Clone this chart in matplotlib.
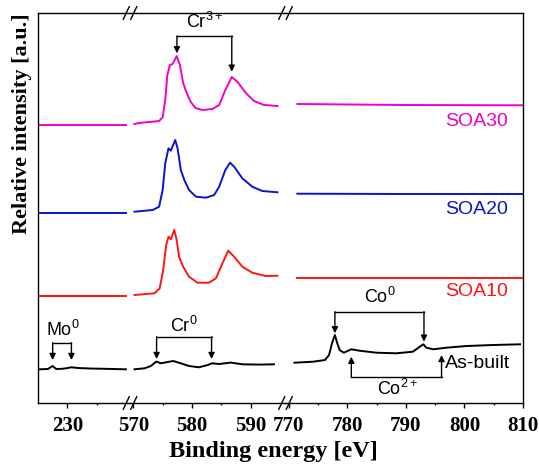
import matplotlib
matplotlib.use('Agg')
import matplotlib.pyplot as plt
from matplotlib.lines import Line2D
import numpy as np

plt.rcParams['mathtext.fontset'] = 'custom'
plt.rcParams['mathtext.rm'] = 'Liberation Sans'
plt.rcParams['mathtext.default'] = 'rm'

# --- data (intensity in a.u.) ---
# Mo 3d window
mo_ev_ab = [225.2, 226.7, 227.5, 228.1, 229.1, 229.8, 230.7, 231.8, 233.9, 236.4, 240.0]
mo_ab = [0, 0.3, 3.3, 0.3, 0.5, 1.0, 2.0, 1.3, 0.8, 0.5, 0]
mo_ev_flat = [225.2, 230.0, 235.0, 240.0]
mo_flat = [0, 0, 0, 0]

# Cr 2p window
cr_ev_30 = [570.2, 571.0, 574.4, 575.0, 575.45, 575.8, 576.25, 576.7, 577.4, 577.95, 578.5, 579.1,
            579.8, 580.6, 581.8, 583.5, 584.65, 585.7, 586.8, 587.8, 589.2, 590.6, 592.3, 594.6]
cr_30 = [1, 2, 4, 7.7, 25, 50, 60, 61, 69, 60, 42, 32, 23, 17, 15, 16, 20, 35, 48, 43, 32, 24, 20, 19]

cr_ev_20 = [570.2, 573.3, 574.4, 575.0, 575.45, 576.0, 576.4, 577.15, 577.55, 578.1, 578.7, 579.5,
            580.7, 582.4, 583.8, 584.65, 585.7, 586.5, 587.2, 588.6, 590.3, 592.0, 594.6]
cr_20 = [1, 2.7, 6, 22.7, 49.4, 64.4, 62, 72.7, 64.4, 42.7, 32.7, 22.7, 16, 15, 17.7, 26, 42.7, 50,
         46, 34.4, 26, 21.7, 20.4]

cr_ev_10 = [570.2, 573.6, 574.5, 575.1, 575.6, 576.0, 576.4, 576.98, 577.4, 577.8, 578.5, 579.5,
            580.95, 582.9, 584.1, 585.2, 586.2, 587.2, 588.6, 590.3, 592.6, 594.6]
cr_10 = [1, 2.7, 7.7, 26, 51, 59.3, 56.7, 66, 56, 39.3, 29.3, 19.3, 13.3, 13.3, 17.7, 32.7, 45.3,
         39.3, 29.3, 23.3, 20, 20.3]

cr_ev_ab = [570.2, 571.9, 573.0, 573.9, 574.7, 575.6, 576.8, 578.1, 579.5, 581.2, 582.7, 583.4,
            584.65, 586.6, 588.6, 591.5, 594.0]
cr_ab = [0, 1, 3.3, 7.7, 6, 7, 8.3, 6, 3.3, 2, 4.3, 6, 5.3, 6.7, 5, 4.7, 5]

# Co 2p window
co_ev_ab = [771.0, 774.2, 776.2, 776.9, 777.4, 777.9, 778.3, 778.7, 779.4, 780.7, 782.1, 785.0,
            788.4, 791.2, 792.4, 793.0, 793.5, 794.7, 796.9, 800.4, 804.9, 809.5]
co_ab = [6.6, 7.6, 9.3, 14.3, 26, 34.3, 26, 19.3, 16.6, 20, 18.6, 16.6, 16, 17.6, 22.6, 25, 21.6,
         20, 21.6, 23.3, 24.3, 25]
co_ev_flat = [771.5, 790.0, 810.0]
co_30 = [21, 20, 19.7]
co_20 = [19, 18.7, 18.7]
co_10 = [18.3, 18.3, 18.3]

samples = ['As-built', 'SOA10', 'SOA20', 'SOA30']
offsets = [33.7, 107, 190.3, 278]
colors = ['black', '#FF1414', '#0A14CC', '#F000C8']

segments = {
    'As-built': [(mo_ev_ab, mo_ab), (cr_ev_ab, cr_ab), (co_ev_ab, co_ab)],
    'SOA10': [(mo_ev_flat, mo_flat), (cr_ev_10, cr_10), (co_ev_flat, co_10)],
    'SOA20': [(mo_ev_flat, mo_flat), (cr_ev_20, cr_20), (co_ev_flat, co_20)],
    'SOA30': [(mo_ev_flat, mo_flat), (cr_ev_30, cr_30), (co_ev_flat, co_30)],
}

xlims = [(225, 240.67), (569.4, 595.9), (769.4, 810)]
major = [[230], [570, 580, 590], [770, 780, 790, 800, 810]]
minor = [[235], [575, 585], [775, 785, 795, 805]]

W, H = 539, 467
fig = plt.figure(figsize=(W / 100, H / 100), dpi=100)
gs = fig.add_gridspec(1, 3, width_ratios=[b - a for a, b in xlims], wspace=0,
                      left=38 / W, right=523 / W, bottom=1 - 403 / H, top=1 - 13 / H)
axes = [fig.add_subplot(gs[0, i]) for i in range(3)]

serif = 'Liberation Serif'
sans = 'Liberation Sans'

for i, ax in enumerate(axes):
    ax.set_xlim(*xlims[i])
    ax.set_ylim(0, 390)
    ax.set_yticks([])
    ax.set_xticks(major[i])
    ax.set_xticks(minor[i], minor=True)
    ax.tick_params(axis='x', which='major', direction='out', length=3.4, width=1, pad=6)
    ax.tick_params(axis='x', which='minor', direction='out', length=1.7, width=1)
    for lab in ax.get_xticklabels():
        lab.set_fontfamily(serif)
        lab.set_fontweight('bold')
        lab.set_fontsize(15)
    for s in ax.spines.values():
        s.set_linewidth(1.0)
    if i > 0:
        ax.spines['left'].set_visible(False)
    if i < 2:
        ax.spines['right'].set_visible(False)
    ax.patch.set_visible(False)

for name, off, col in zip(samples, offsets, colors):
    for ax, (ev, val) in zip(axes, segments[name]):
        ax.plot(ev, np.array(val) + off, color=col, lw=1.4)

# break marks
for xb in [130 / W, 285.5 / W]:
    for yb in [403, 13]:
        for dx in (-3.75, 3.75):
            xc = xb * W + dx
            fig.add_artist(Line2D([(xc - 3) / W, (xc + 3) / W],
                                  [1 - (yb + 6.3) / H, 1 - (yb - 6.3) / H],
                                  color='black', lw=1.0))


def bracket(ax, x1, x2, ybar, y1, y2):
    ax.plot([x1, x2], [ybar, ybar], color='black', lw=1.0)
    for x, y in ((x1, y1), (x2, y2)):
        ax.annotate('', xy=(x, y), xytext=(x, ybar),
                    arrowprops=dict(arrowstyle='-|>', color='black', lw=1.0,
                                    mutation_scale=9, shrinkA=0, shrinkB=0))


bracket(axes[0], 227.5, 230.7, 60.3, 43, 43)
axes[0].text(229.3, 73, 'Mo$^{0}$', fontsize=13, family=sans, ha='center', va='center')

bracket(axes[1], 573.97, 583.35, 66.3, 44, 44)
axes[1].text(578.7, 77, 'Cr$^{0}$', fontsize=13, family=sans, ha='center', va='center')

bracket(axes[1], 577.44, 586.8, 367, 349.7, 331.3)
axes[1].text(582.1, 381, 'Cr$^{3+}$', fontsize=13, family=sans, ha='center', va='center')

bracket(axes[2], 777.9, 793.1, 91.3, 69.7, 61.3)
axes[2].text(785.6, 106, 'Co$^{0}$', fontsize=13, family=sans, ha='center', va='center')

bracket(axes[2], 780.7, 796.1, 25.7, 46.3, 48)
axes[2].text(788.7, 13.7, 'Co$^{2+}$', fontsize=13, family=sans, ha='center', va='center')

axes[2].text(796.7, 39, 'As-built', fontsize=14, family=sans, ha='left', va='center')
axes[2].text(807.5, 281.3, 'SOA30', fontsize=14, family=sans, color=colors[3], ha='right', va='center')
axes[2].text(807.5, 193, 'SOA20', fontsize=14, family=sans, color=colors[2], ha='right', va='center')
axes[2].text(807.5, 111, 'SOA10', fontsize=14, family=sans, color=colors[1], ha='right', va='center')

fig.text(273 / W, 1 - 452 / H, 'Binding energy [eV]', fontsize=17.5, family=serif,
         fontweight='bold', ha='center', va='center')
fig.text(22 / W, 1 - 13 / H, 'Relative intensity [a.u.]', fontsize=16, family=serif,
         fontweight='bold', rotation=90, ha='center', va='top')

fig.savefig('out.png', dpi=100)
